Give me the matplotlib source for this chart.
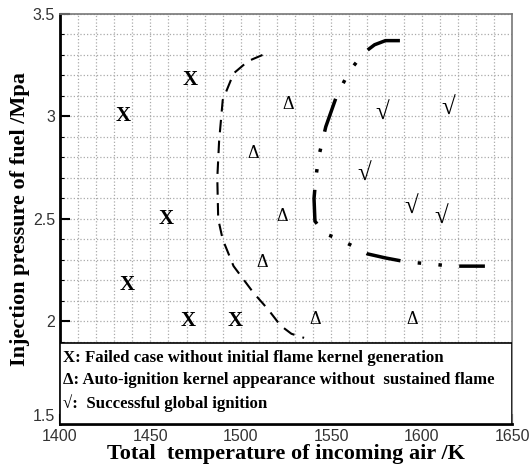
import numpy as np
import matplotlib.pyplot as plt
from matplotlib.patches import Rectangle
from matplotlib.ticker import MultipleLocator

SERIF = ['Liberation Serif', 'DejaVu Serif']
SANS = ['Liberation Sans', 'DejaVu Sans']

# failed cases (X)
fail_T = [1435, 1472, 1459, 1437, 1471, 1497]
fail_p = [3.0, 3.18, 2.5, 2.18, 2.0, 2.0]

# auto-ignition kernel cases (delta)
auto_T = [1507, 1526, 1523, 1512, 1541, 1595]
auto_p = [2.82, 3.06, 2.51, 2.29, 2.01, 2.01]

# successful ignition (check)
ok_T = [1578, 1615, 1568, 1594, 1611]
ok_p = [3.02, 3.04, 2.72, 2.56, 2.51]

# dashed boundary
b1_T = [1512, 1504, 1496, 1490, 1488, 1487, 1487.5, 1490, 1496, 1507, 1515, 1522, 1528, 1535]
b1_p = [3.30, 3.27, 3.21, 3.08, 2.88, 2.70, 2.50, 2.40, 2.27, 2.14, 2.06, 1.98, 1.94, 1.92]

# dash-dot boundary
b2_T = [1588, 1580, 1574, 1568, 1560, 1553, 1547, 1543, 1541.5, 1540.5, 1541, 1546, 1555, 1570, 1580, 1592, 1606, 1616, 1628, 1635]
b2_p = [3.37, 3.37, 3.35, 3.31, 3.22, 3.10, 2.95, 2.80, 2.70, 2.60, 2.49, 2.43, 2.40, 2.33, 2.31, 2.29, 2.28, 2.27, 2.27, 2.27]

legend_lines = ['X: Failed case without initial flame kernel generation',
                '\u0394: Auto-ignition kernel appearance without  sustained flame',
                '\u221a:  Successful global ignition']

fig = plt.figure(figsize=(5.29, 4.74), dpi=100)
ax = fig.add_axes([0.1134, 0.1055, 0.8545, 0.865])
ax.set_xlim(1400, 1650)
ax.set_ylim(1.5, 3.5)

ax.xaxis.set_major_locator(MultipleLocator(50))
ax.xaxis.set_minor_locator(MultipleLocator(10))
ax.yaxis.set_major_locator(MultipleLocator(0.5))
ax.yaxis.set_minor_locator(MultipleLocator(0.1))
ax.set_yticks([1.5, 2, 2.5, 3, 3.5])
ax.set_yticklabels(['1.5', '2', '2.5', '3', '3.5'])

ax.grid(which='both', color='#aaaaaa', linestyle=':', linewidth=0.9, zorder=0)
ax.tick_params(which='major', direction='in', length=7, width=1.5, labelsize=11.5)
ax.tick_params(which='minor', direction='in', length=3, width=0.8)
for lab in ax.get_xticklabels() + ax.get_yticklabels():
    lab.set_family(SANS)
    lab.set_color('#333333')
# the 1.5 label sits a little above the corner in the original
ax.get_yticklabels()[0].set_verticalalignment('bottom')

for s in ['left', 'bottom']:
    ax.spines[s].set_linewidth(2.0)
for s in ['top', 'right']:
    ax.spines[s].set_linewidth(1.2)
    ax.spines[s].set_color('#777777')

# boundaries
ax.plot(b1_T, b1_p, color='black', linewidth=1.5, dashes=(6, 4), zorder=3)
ax.plot(b2_T, b2_p, color='black', linewidth=2.5, dashes=(10, 5, 1, 5, 1, 5), zorder=3)

# markers as text
for t, p in zip(fail_T, fail_p):
    ax.text(t, p, 'X', family=SERIF, fontweight='bold', fontsize=15, ha='center', va='center', zorder=4)
for t, p in zip(auto_T, auto_p):
    ax.text(t, p, '\u0394', family=SERIF, fontsize=13, ha='center', va='center', zorder=4)
for t, p in zip(ok_T, ok_p):
    ax.text(t, p, '\u221a', family=SERIF, fontsize=18, ha='center', va='center', zorder=4)

# legend box
ax.add_patch(Rectangle((1400, 1.5), 250, 0.395, facecolor='white', edgecolor='black', linewidth=1.2, zorder=5))
for i, s in enumerate(legend_lines):
    ax.text(1401.5, 1.823 - i * 0.11, s, family=SERIF, fontweight='bold', fontsize=12.1,
            ha='left', va='center', zorder=6)

ax.set_xlabel('Total  temperature of incoming air /K', family=SERIF, fontweight='bold', fontsize=16, labelpad=0)
ax.set_ylabel('Injection pressure of fuel /Mpa', family=SERIF, fontweight='bold', fontsize=16, labelpad=2)

fig.savefig('out.png', dpi=100)
